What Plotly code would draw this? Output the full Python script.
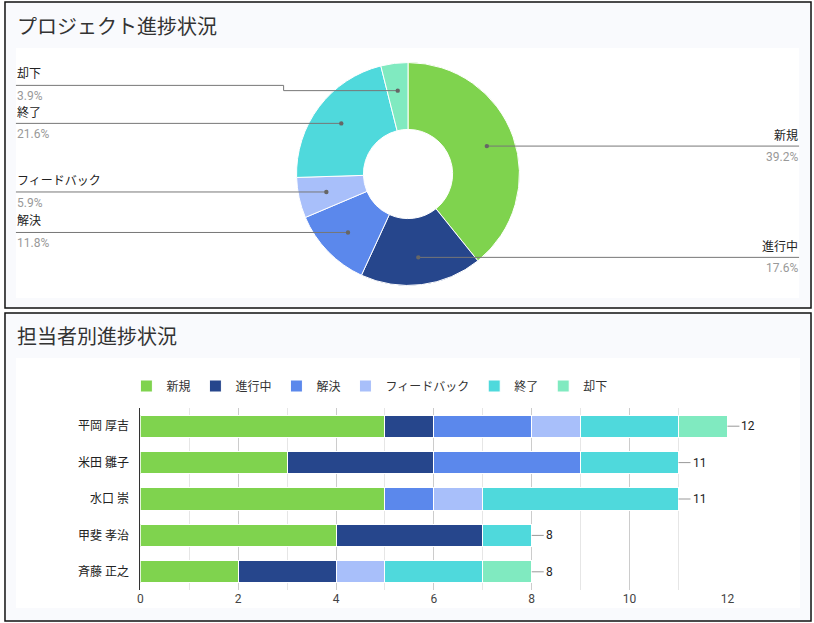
import math
import plotly.graph_objects as go

# ── Data ───────────────────────────────────────────────
statuses = ["新規", "進行中", "解決", "フィードバック", "終了", "却下"]
colors = ["#7fd34e", "#26468c", "#5b88ec", "#a8bffa", "#4fd9dc", "#80eac0"]

# project-wide counts (donut)
status_counts = [20, 9, 6, 3, 11, 2]

# per-person counts (stacked bars)
people = ["平岡 厚吉", "米田 雛子", "水口 崇", "甲斐 孝治", "斉藤 正之"]
new_cnt = [5, 3, 5, 4, 2]
doing_cnt = [1, 3, 0, 3, 2]
resolved_cnt = [2, 3, 1, 0, 0]
feedback_cnt = [1, 0, 1, 0, 1]
closed_cnt = [2, 2, 4, 1, 2]
rejected_cnt = [1, 0, 0, 0, 1]
per_person = [new_cnt, doing_cnt, resolved_cnt, feedback_cnt, closed_cnt, rejected_cnt]

# design grid is 814x623; the page gets squeezed slightly in x when photographed,
# so the figure is drawn a bit wider
W, H = 814, 623
FIG_W = 820
FONT = "Roboto, Noto Sans CJK JP, sans-serif"


def px(x):
    return x / W


def py(y):
    return 1 - y / H


fig = go.Figure()

# ── Panels ─────────────────────────────────────────────
shapes = []
for (x0, y0, x1, y1), (ix0, iy0, ix1, iy1) in [
    ((2, 2, 812, 308), (13, 48, 800, 298)),
    ((2, 313, 812, 621), (13, 358, 801, 608)),
]:
    shapes.append(dict(type="rect", xref="paper", yref="paper", layer="below",
                       x0=px(x0), x1=px(x1), y0=py(y0), y1=py(y1),
                       fillcolor="#f9fafd", line=dict(color="#111", width=1.5)))
    shapes.append(dict(type="rect", xref="paper", yref="paper", layer="below",
                       x0=px(ix0), x1=px(ix1), y0=py(iy0), y1=py(iy1),
                       fillcolor="#ffffff", line=dict(width=0)))

annotations = [
    dict(text="プロジェクト進捗状況", x=px(12), y=py(27), xref="paper", yref="paper",
         xanchor="left", yanchor="middle", showarrow=False,
         font=dict(size=20, color="#333", family=FONT)),
    dict(text="担当者別進捗状況", x=px(12), y=py(337), xref="paper", yref="paper",
         xanchor="left", yanchor="middle", showarrow=False,
         font=dict(size=20, color="#333", family=FONT)),
]

# ── 1. Donut ───────────────────────────────────────────
cx, cy, R = 407, 174, 112
fig.add_trace(go.Pie(
    labels=statuses, values=status_counts, hole=0.4, sort=False,
    direction="clockwise", rotation=0,
    marker=dict(colors=colors, line=dict(color="white", width=1)),
    textinfo="none", hoverinfo="skip", showlegend=False,
    domain=dict(x=[px(cx - R), px(cx + R)], y=[py(cy + R), py(cy - R)]),
))

# outside labels with leader lines
total = sum(status_counts)
cum = 0
labels_info = []
for name, v in zip(statuses, status_counts):
    ang = math.radians(360 * (cum + v / 2) / total)
    cum += v
    dx, dy = cx + 84 * math.sin(ang), cy - 84 * math.cos(ang)
    side = "right" if math.sin(ang) > 0 else "left"
    labels_info.append(dict(name=name, pct=f"{v / total * 100:.1f}%",
                            dx=dx, dy=dy, side=side, ly=dy))

for side in ["left", "right"]:
    items = sorted([d for d in labels_info if d["side"] == side], key=lambda d: d["dy"])
    # push labels upward when too close
    for i in range(len(items) - 2, -1, -1):
        if items[i + 1]["ly"] - items[i]["ly"] < 38:
            items[i]["ly"] = items[i + 1]["ly"] - 38

for d in labels_info:
    if d["side"] == "left":
        xend, elbow, anchor = 13, cx - R - 13, "left"
    else:
        xend, elbow, anchor = 800, cx + R + 13, "right"
    if abs(d["ly"] - d["dy"]) > 0.5:
        path = (f"M {px(xend)},{py(d['ly'])} L {px(elbow)},{py(d['ly'])} "
                f"L {px(elbow)},{py(d['dy'])} L {px(d['dx'])},{py(d['dy'])}")
    else:
        path = f"M {px(xend)},{py(d['ly'])} L {px(d['dx'])},{py(d['dy'])}"
    shapes.append(dict(type="path", path=path, xref="paper", yref="paper",
                       line=dict(color="#777", width=1)))
    shapes.append(dict(type="circle", xref="paper", yref="paper",
                       x0=px(d["dx"] - 2.2), x1=px(d["dx"] + 2.2),
                       y0=py(d["dy"] + 2.2), y1=py(d["dy"] - 2.2),
                       fillcolor="#666", line=dict(width=0)))
    annotations.append(dict(text=d["name"], x=px(xend), y=py(d["ly"] - 11),
                            xref="paper", yref="paper", xanchor=anchor, yanchor="middle",
                            showarrow=False, borderpad=0,
                            font=dict(size=12, color="#222", family=FONT)))
    annotations.append(dict(text=d["pct"], x=px(xend), y=py(d["ly"] + 11),
                            xref="paper", yref="paper", xanchor=anchor, yanchor="middle",
                            showarrow=False, borderpad=0,
                            font=dict(size=12, color="#999", family=FONT)))

# ── 2. Stacked bars per person ─────────────────────────
for name, color, vals in zip(statuses, colors, per_person):
    fig.add_trace(go.Bar(
        y=people, x=vals, name=name, orientation="h",
        marker=dict(color=color, line=dict(color="white", width=1)),
        hoverinfo="skip",
    ))

totals = [sum(col) for col in zip(*per_person)]
for person, t in zip(people, totals):
    annotations.append(dict(x=t, y=person, xref="x", yref="y", text=str(t),
                            showarrow=True, arrowhead=0, arrowwidth=1, arrowcolor="#999",
                            ax=12, ay=0, xanchor="left", standoff=0,
                            font=dict(size=12, color="#222", family=FONT)))

fig.update_layout(
    width=FIG_W, height=H,
    margin=dict(l=0, r=0, t=0, b=0),
    paper_bgcolor="white", plot_bgcolor="rgba(0,0,0,0)",
    font=dict(family=FONT, size=12, color="#333"),
    barmode="stack", bargap=0.39,
    shapes=shapes, annotations=annotations,
    legend=dict(orientation="h", x=px(124), y=py(386), xanchor="left", yanchor="middle",
                bgcolor="rgba(0,0,0,0)", font=dict(size=12, color="#333", family=FONT),
                traceorder="normal"),
    xaxis=dict(domain=[px(138), px(728)], range=[0, 12], dtick=2,
               showgrid=True, gridcolor="#cccccc", zeroline=False,
               minor=dict(dtick=1, showgrid=True, gridcolor="#e6e6e6"),
               tickfont=dict(size=12, color="#444"), anchor="y", fixedrange=True),
    yaxis=dict(domain=[py(590), py(408)], categoryorder="array", categoryarray=people,
               autorange="reversed", showline=True, linecolor="#333", linewidth=1,
               showgrid=False, ticklabelstandoff=8,
               tickfont=dict(size=12, color="#222"), anchor="x", fixedrange=True),
)

fig.write_html("out.html", config={"displayModeBar": False},
               post_script="document.documentElement.style.overflow='hidden';"
                           "document.body.style.overflow='hidden';"
                           "document.body.style.margin='0px';"
                           "document.body.style.padding='0px';")
